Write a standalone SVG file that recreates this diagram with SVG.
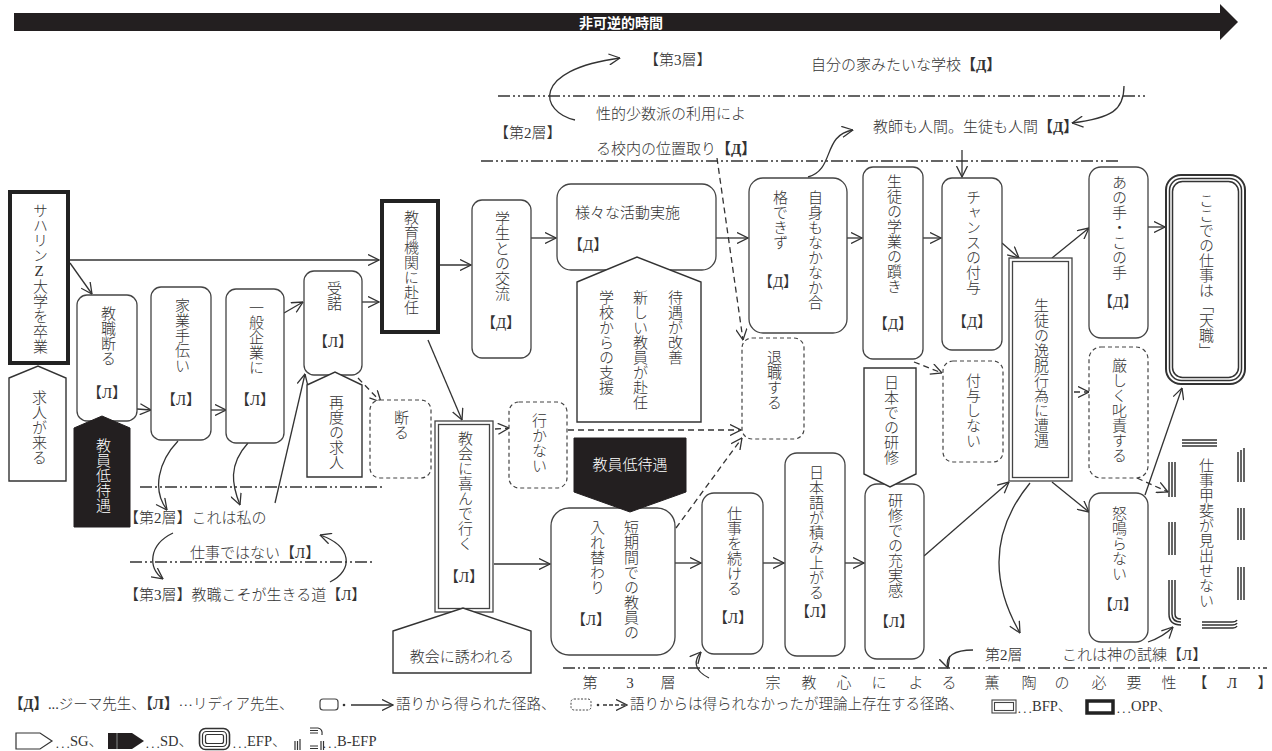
<svg xmlns="http://www.w3.org/2000/svg" width="1272" height="751" viewBox="0 0 1272 751">
<style>
text{font-family:"Liberation Serif","Noto Sans CJK JP",serif;font-size:15px;fill:#333;font-weight:300;dominant-baseline:central}
.v{writing-mode:vertical-rl}
.m{text-anchor:middle}
.w{fill:#fff}
.box{fill:#fff;stroke:#444;stroke-width:1.3}
.dbox{fill:#fff;stroke:#444;stroke-width:1.2;stroke-dasharray:4 3}
.opp{fill:#fff;stroke:#222;stroke-width:4}
.sg{fill:#fff;stroke:#333;stroke-width:1.4}
.sd{fill:#231f20;stroke:#231f20;stroke-width:1}
.ln{fill:none;stroke:#333;stroke-width:1.3}
.arr{marker-end:url(#ah)}
.ds{stroke-dasharray:6 4}
.lay{fill:none;stroke:#333;stroke-width:1.6;stroke-dasharray:12 3 2 3 2 3}
.tri{fill:none;stroke:#333;stroke-width:1.5}
.b{font-weight:bold}
.c{font-family:"Noto Sans CJK JP",sans-serif}
.lg{font-size:14.5px}
</style>
<defs>
<marker id="ah" viewBox="0 0 12 12" refX="11.5" refY="6" markerWidth="12" markerHeight="12" markerUnits="userSpaceOnUse" orient="auto"><path d="M0.5,0.5 L11.5,6 L0.5,11.5" fill="none" stroke="#333" stroke-width="1.3"/></marker>
</defs>

<g id="time-arrow">
<polygon points="14,13 1220,13 1220,4 1238,22 1220,40 1220,31 14,31" fill="#231f20"/>
<text x="621" y="22" class="m b w" style="font-size:14px;font-family:'Noto Sans CJK JP',sans-serif">非可逆的時間</text>
</g>

<g id="layers">
<path class="lay" d="M498,96 H1148"/>
<path class="lay" d="M481,161 H1119"/>
<path class="lay" d="M140,487 H385"/>
<path class="lay" d="M130,562 H375"/>
<path class="lay" d="M563,668 H1267"/>
<text x="644" y="60">【第3層】</text>
<text x="811" y="65">自分の家みたいな学校<tspan class="b">【Д】</tspan></text>
<text x="596" y="114">性的少数派の利用によ</text>
<text x="494" y="133">【第2層】</text>
<text x="596" y="149">る校内の位置取り<tspan class="b">【Д】</tspan></text>
<text x="873" y="127">教師も人間。生徒も人間<tspan class="b">【Д】</tspan></text>
<text x="124" y="518">【第2層】これは私の</text>
<text x="190" y="553">仕事ではない【Л】</text>
<text x="124" y="595">【第3層】教職こそが生きる道【Л】</text>
<text x="985" y="655">第2層</text>
<text x="1062" y="655">これは神の試練【Л】</text>
<text y="683" class="m" x="590 630 668 773 809 844 879 916 949 992 1029 1062 1099 1134 1169 1200 1232 1265">第3層宗教心による薫陶の必要性【Л】</text>
</g>

<g id="connectors">
<path class="ln arr" d="M70,260 H379"/>
<path class="ln arr" d="M70,263 L92,294"/>
<path class="ln arr" d="M137,409 L151,410"/>
<path class="ln arr" d="M211,410 L226,410"/>
<path class="ln arr" d="M284,313 L303,302"/>
<path class="ln arr" d="M275,503 L305,374"/>
<path class="ln arr" d="M362,302 H379"/>
<path class="ln arr" d="M435,265 H471"/>
<path class="ln arr" d="M428,340 L462,420"/>
<path class="ln arr" d="M531,238 H556"/>
<path class="ln arr" d="M716,238 H748"/>
<path class="ln arr" d="M847,238 H862"/>
<path class="ln arr" d="M923,238 H941"/>
<path class="ln arr" d="M1002,243 L1019,258"/>
<path class="ln arr" d="M1052,258 L1089,228"/>
<path class="ln arr" d="M1148,227 H1165"/>
<path class="ln arr" d="M1052,482 L1089,512"/>
<path class="ln arr" d="M1145,495 L1182,388"/>
<path class="ln arr" d="M494,564 H550"/>
<path class="ln arr" d="M675,563 H701"/>
<path class="ln arr" d="M763,563 H784"/>
<path class="ln arr" d="M845,563 H864"/>
<path class="ln arr" d="M924,556 L1009,482"/>
<path class="ln arr" d="M962,150 V177"/>
<path class="ln ds arr" d="M358,378 L381,402"/>
<path class="ln ds arr" d="M495,429 L509,428"/>
<path class="ln ds arr" d="M568,430 H741"/>
<path class="ln ds arr" d="M676,528 L742,438"/>
<path class="ln ds arr" d="M717,158 L743,340"/>
<path class="ln ds arr" d="M914,362 L942,373"/>
<path class="ln ds arr" d="M1074,392 H1089"/>
<path class="ln ds arr" d="M1137,478 L1168,492"/>
<path class="ln arr" d="M575,120 C540,112 530,70 620,58"/>
<path class="ln arr" d="M808,177 C835,170 822,135 853,130"/>
<path class="ln arr" d="M1124,86 C1124,110 1112,118 1072,123"/>
<path class="ln arr" d="M178,441 C158,462 152,490 167,510"/>
<path class="ln arr" d="M248,443 C228,465 232,485 240,505"/>
<path class="ln arr" d="M173,533 C148,545 148,568 163,579"/>
<path class="ln arr" d="M330,582 C354,570 352,546 320,535"/>
<path class="ln arr" d="M709,678 C693,670 694,660 701,652"/>
<path class="ln arr" d="M1030,483 C998,522 985,572 1020,633"/>
<path class="ln arr" d="M973,650 C955,650 944,656 948,668"/>
<path class="ln arr" d="M1148,642 C1160,638 1166,634 1173,627"/>
</g>

<g id="n1"><rect class="opp" x="10" y="192" width="58" height="171"/><text class="v" x="39" y="203" style="text-orientation:upright">サハリンZ大学を卒業</text></g>
<g id="n2"><polygon class="sg" points="9,378 38,366 66,378 66,481 9,481"/><text class="v" x="38" y="390">求人が来る</text></g>
<g id="n3"><rect class="box" x="77" y="295" width="60" height="126" rx="10"/><text class="v" x="107" y="306">教職断る</text><text class="m" x="107" y="393">【Л】</text></g>
<g id="n4"><polygon class="sd" points="74,428 102,416 130,428 130,527 74,527"/><text class="v w" x="102" y="438">教員低待遇</text></g>
<g id="n5"><rect class="box" x="151" y="287" width="60" height="153" rx="10"/><text class="v" x="181" y="298">家業手伝い</text><text class="m" x="181" y="400">【Л】</text></g>
<g id="n6"><rect class="box" x="226" y="289" width="58" height="154" rx="10"/><text class="v" x="255" y="300">一般企業に</text><text class="m" x="255" y="400">【Л】</text></g>
<g id="n7"><rect class="box" x="304" y="271" width="58" height="104" rx="10"/><text class="v" x="333" y="281">受諾</text><text class="m" x="333" y="342">【Л】</text></g>
<g id="n8"><polygon class="sg" points="307,385 335,372 362,385 362,477 307,477"/><text class="v" x="335" y="395">再度の求人</text></g>
<g id="n9"><rect class="dbox" x="370" y="400" width="61" height="78" rx="10"/><text class="v" x="400" y="410">断る</text></g>
<g id="n10"><rect class="opp" x="382" y="201" width="56" height="131"/><text class="v" x="410" y="210">教育機関に赴任</text></g>
<g id="n11"><rect class="box" x="472" y="200" width="59" height="158" rx="10"/><text class="v" x="501" y="211">学生との交流</text><text class="m" x="501" y="323">【Д】</text></g>
<g id="n12"><rect class="box" x="557" y="184" width="159" height="86" rx="14"/><text x="575" y="213">様々な活動実施</text><text x="568" y="245">【Д】</text></g>
<g id="n13"><polygon class="sg" points="577,282 637,257 701,282 701,422 577,422"/><text class="v" x="674" y="290">待遇が改善</text><text class="v" x="639" y="290">新しい教員が赴任</text><text class="v" x="605" y="290">学校からの支援</text></g>
<g id="n14"><rect class="box" x="749" y="178" width="98" height="155" rx="14"/><text class="v" x="814" y="190">自身もなかなか合</text><text class="v" x="779" y="190">格できず</text><text class="m" x="778" y="282">【Д】</text></g>
<g id="n15"><rect class="box" x="863" y="167" width="60" height="192" rx="10"/><text class="v" x="893" y="174">生徒の学業の躓き</text><text class="m" x="893" y="324">【Д】</text></g>
<g id="n16"><rect class="box" x="942" y="178" width="60" height="172" rx="10"/><text class="v" x="972" y="190">チャンスの付与</text><text class="m" x="972" y="322">【Д】</text></g>
<g id="n17"><rect class="dbox" x="943" y="361" width="60" height="101" rx="10"/><text class="v" x="972" y="373">付与しない</text></g>
<g id="n19"><rect class="dbox" x="742" y="338" width="62" height="101" rx="10"/><text class="v" x="773" y="350">退職する</text></g>
<g id="n20"><rect class="box" x="435" y="421" width="58" height="191"/><rect class="box" x="438.5" y="424.5" width="51" height="184"/><text class="v" x="464" y="431">教会に喜んで行く</text><text class="m" x="464" y="577">【Л】</text></g>
<g id="n21"><polygon class="sg" points="393,631 463,608 531,631 531,673 393,673"/><text class="m" x="462" y="657">教会に誘われる</text></g>
<g id="n22"><rect class="dbox" x="509" y="402" width="58" height="86" rx="10"/><text class="v" x="538" y="413">行かない</text></g>
<g id="n24"><rect class="box" x="551" y="508" width="124" height="147" rx="18"/><text class="v" x="630" y="520">短期間での教員の</text><text class="v" x="596" y="520">入れ替わり</text><text class="m" x="591" y="620">【Л】</text></g>
<g id="n23"><polygon class="sd" points="574,438 686,438 686,492 630,512 574,492"/><text class="m w" x="630" y="465">教員低待遇</text></g>
<g id="n25"><rect class="box" x="702" y="493" width="61" height="161" rx="12"/><text class="v" x="733" y="506">仕事を続ける</text><text class="m" x="733" y="618">【Л】</text></g>
<g id="n26"><rect class="box" x="785" y="453" width="60" height="203" rx="12"/><text class="v" x="815" y="465">日本語が積み上がる</text><text class="m" x="815" y="612">【Л】</text></g>
<g id="n27"><rect class="box" x="865" y="484" width="59" height="175" rx="12"/><text class="v" x="894" y="493">研修での充実感</text><text class="m" x="894" y="622">【Л】</text></g>
<g id="n18"><polygon class="sg" points="864,368 916,368 916,474 890,487 864,474"/><text class="v" x="890" y="375">日本での研修</text></g>
<g id="n28"><rect class="box" x="1009" y="258" width="63" height="223"/><rect class="box" x="1012.5" y="261.5" width="56" height="216"/><text class="v" x="1040" y="298">生徒の逸脱行為に遭遇</text></g>
<g id="n29"><rect class="box" x="1089" y="167" width="59" height="171" rx="12"/><text class="v" x="1118" y="175">あの手・この手</text><text class="m" x="1118" y="302">【Д】</text></g>
<g id="n30"><rect class="dbox" x="1089" y="347" width="59" height="131" rx="12"/><text class="v" x="1118" y="358">厳しく叱責する</text></g>
<g id="n31"><rect class="box" x="1089" y="493" width="59" height="149" rx="12"/><text class="v" x="1118" y="506">怒鳴らない</text><text class="m" x="1118" y="605">【Л】</text></g>
<g id="n32"><rect class="tri" x="1166" y="175" width="79" height="209" rx="15" style="stroke-width:2"/><rect class="tri" x="1169.5" y="178.5" width="72" height="202" rx="12"/><rect class="tri" x="1172.5" y="181.5" width="66" height="196" rx="10"/><text class="v" x="1205" y="193">ここでの仕事は「天職」</text></g>
<g id="n33">
<path class="tri" d="M1182,440 H1217 M1182,443 H1217 M1182,446 H1217"/>
<path class="tri" d="M1238,452 V482 M1241,450 V482 M1244,448 V482"/>
<path class="tri" d="M1238,508 V540 M1241,508 V540 M1244,508 V540"/>
<path class="tri" d="M1238,567 V600 M1241,567 V600 M1244,567 V600"/>
<path class="tri" d="M1169,462 V497 M1172,462 V497 M1175,462 V497"/>
<path class="tri" d="M1169,522 V555 M1172,522 V555 M1175,522 V555"/>
<path class="tri" d="M1169,580 V614 Q1169,625 1181,625 M1172,580 V614 Q1172,622 1181,622 M1175,580 V614 Q1175,619 1181,619"/>
<path class="tri" d="M1202,622 H1232 Q1236,622 1237,620 M1202,625 H1232 Q1236,625 1237,623 M1202,628 H1233 Q1236,628 1237,626"/>
<text class="v" x="1205" y="458">仕事甲斐が見出せない</text>
</g>

<g id="legend" class="lg">
<text class="lg" x="9" y="704"><tspan class="b">【Д】</tspan>...ジーマ先生、<tspan class="b">【Л】</tspan><tspan class="c">…</tspan>リディア先生、</text>
<rect x="320" y="699" width="18" height="11" rx="3" fill="#fff" stroke="#444" stroke-width="1.2"/>
<circle cx="344" cy="705" r="1.3" fill="#333"/>
<path class="ln arr" d="M351,705 H393"/>
<text class="lg" x="396" y="704">語りから得られた径路、</text>
<rect x="571" y="699" width="20" height="11" rx="3" fill="#fff" stroke="#444" stroke-width="1" stroke-dasharray="2 1.5"/>
<circle cx="598" cy="705" r="1.3" fill="#333"/>
<path class="ln arr" d="M603,705 H627" stroke-dasharray="4 2"/>
<text class="lg" x="630" y="704">語りからは得られなかったが理論上存在する径路、</text>
<rect x="992" y="700" width="24" height="13" fill="#fff" stroke="#444" stroke-width="1.1"/>
<rect x="994.5" y="702.5" width="19" height="8" fill="none" stroke="#444" stroke-width="1.1"/>
<text class="lg" x="1017" y="706"><tspan class="c">…</tspan>BFP、</text>
<rect x="1087" y="701" width="26" height="12" fill="#fff" stroke="#222" stroke-width="3.5"/>
<text class="lg" x="1116" y="706"><tspan class="c">…</tspan>OPP、</text>
<polygon points="16,733 40,733 52,741 40,749 16,749" fill="#fff" stroke="#333" stroke-width="1.2"/>
<text class="lg" x="55" y="741"><tspan class="c">…</tspan>SG、</text>
<polygon points="108,733 132,733 144,741 132,749 108,749" fill="#231f20"/>
<path d="M117,733 V749" stroke="#555" stroke-width="2"/>
<text class="lg" x="145" y="741"><tspan class="c">…</tspan>SD、</text>
<rect x="199.5" y="728.5" width="30" height="21" rx="6" fill="none" stroke="#333" stroke-width="1.6"/>
<rect x="202.5" y="731.5" width="24" height="15" rx="4" fill="none" stroke="#333" stroke-width="1.2"/>
<rect x="205.5" y="734.5" width="18" height="9" rx="2" fill="#fff" stroke="#333" stroke-width="1.2"/>
<text class="lg" x="232" y="741"><tspan class="c">…</tspan>EFP、</text>
<path d="M295,741 V750 M297.5,741 V750 M300,739 V750 M310,728 H318 M310,730.5 H318 M310,733 H318 M318,728 Q323,729 322,735 M310,746 H318 M310,748.5 H318 M321,741 V750 M323.5,741 V750" stroke="#333" stroke-width="1.2" fill="none"/>
<text class="lg" x="322" y="741"><tspan class="c">…</tspan>B-EFP</text>
</g>
</svg>
